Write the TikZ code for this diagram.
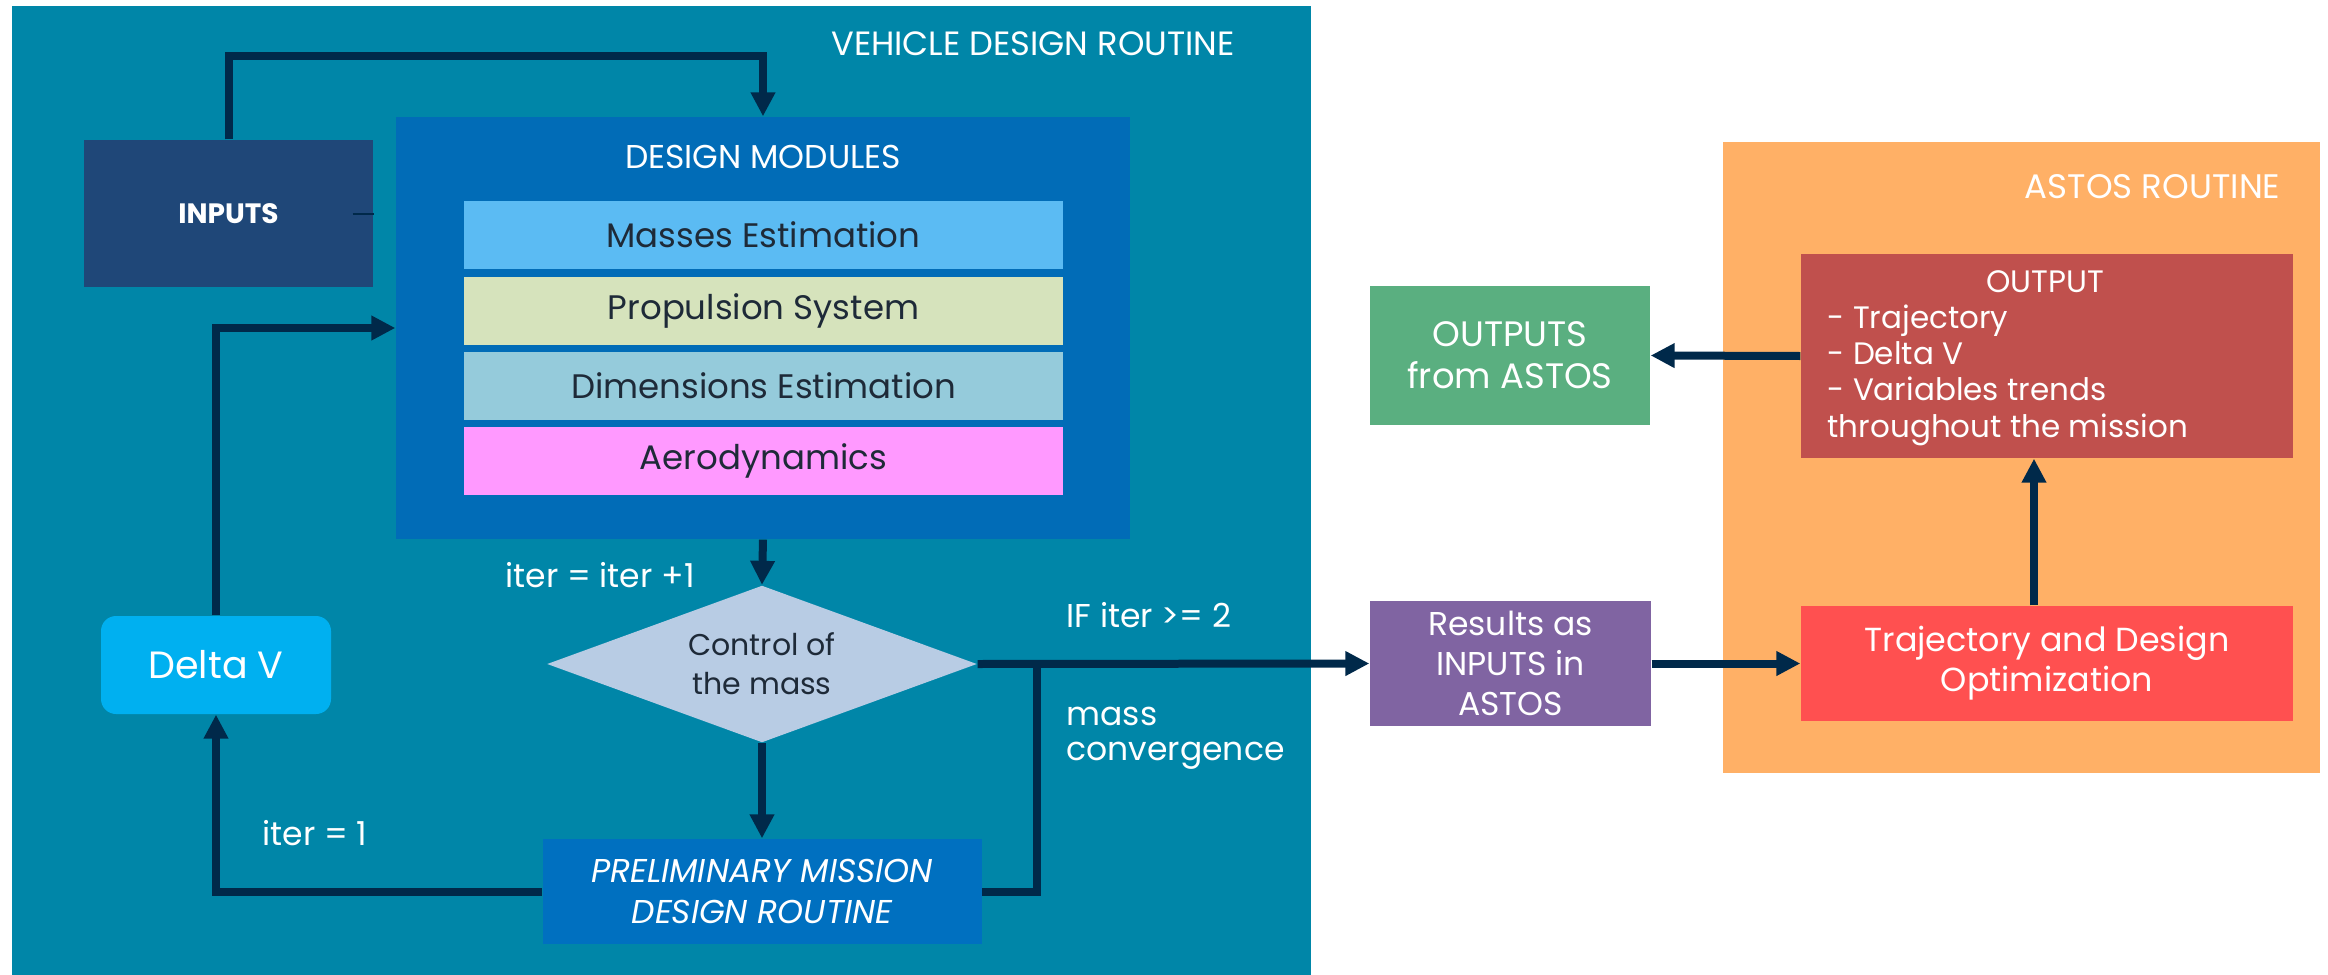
\documentclass[tikz,border=0pt]{standalone}
\usepackage{fontspec}
\setmainfont{Poppins}
\usetikzlibrary{shapes.geometric,arrows.meta,calc}
\definecolor{tealC}{HTML}{0086A8}
\definecolor{inpC}{HTML}{1F4778}
\definecolor{dmC}{HTML}{016CB7}
\definecolor{m1C}{HTML}{5BBBF3}
\definecolor{m2C}{HTML}{D6E3BC}
\definecolor{m3C}{HTML}{95CBDB}
\definecolor{m4C}{HTML}{FF99FF}
\definecolor{dvC}{HTML}{00B0F0}
\definecolor{diaC}{HTML}{B8CCE4}
\definecolor{pmC}{HTML}{0070C0}
\definecolor{lineC}{HTML}{00294A}
\definecolor{txtC}{HTML}{1E2A38}
\definecolor{orC}{HTML}{FFB066}
\definecolor{outC}{HTML}{C0504D}
\definecolor{trC}{HTML}{FF5050}
\definecolor{grC}{HTML}{5AAF80}
\definecolor{puC}{HTML}{8064A2}
\def\pxu{0.3pt}
\newcommand\fsz[2]{\fontsize{#1}{#2}\selectfont}
\begin{document}
\begin{tikzpicture}[x=0.3pt,y=-0.3pt,
  sz/.style 2 args={minimum width=#1*\pxu, minimum height=#2*\pxu, inner sep=0pt},
  blk/.style={rectangle, draw=none},
  link/.style={draw=lineC, line width=2.4pt},
  arr/.style={link, -{Triangle[length=7.2pt,width=7pt]}},
  lbl/.style={text=white, inner sep=0pt},
]
\useasboundingbox[fill=white] (0,0) rectangle (2328,975);

% Vehicle design routine container
\node[blk, fill=tealC, sz={1299}{969}] (vdr) at (661.5,490.5) {};
\node[lbl, font=\fsz{10.1pt}{12pt}] (vdrt) at (1033,44) {VEHICLE DESIGN ROUTINE};

\node[blk, fill=inpC, sz={289}{147}, text=white, font=\bfseries\fsz{8.4pt}{10pt}] (inputs) at (228.5,213.5) {INPUTS};

\node[blk, fill=dmC, sz={734}{422}] (dm) at (763,328) {};
\node[lbl, font=\fsz{9.9pt}{11pt}] (dmt) at (763,157) {DESIGN MODULES};
\node[blk, fill=m1C, sz={599}{68}, text=txtC, font=\fsz{10.2pt}{12pt}] (m1) at (763.5,235) {Masses Estimation};
\node[blk, fill=m2C, sz={599}{68}, text=txtC, font=\fsz{10.2pt}{12pt}] (m2) at (763.5,311) {Propulsion System};
\node[blk, fill=m3C, sz={599}{68}, text=txtC, font=\fsz{10.2pt}{12pt}] (m3) at (763.5,386) {Dimensions Estimation};
\node[blk, fill=m4C, sz={599}{68}, text=txtC, font=\fsz{10.2pt}{12pt}] (m4) at (763.5,461) {Aerodynamics};

\node[blk, fill=dvC, rounded corners=4.5pt, sz={230}{98}, text=white, font=\fsz{11.4pt}{13pt}] (dv) at (216,665) {Delta V};

\node[diamond, fill=diaC, aspect=2.74, sz={430}{157}, text=txtC, align=center, font=\fsz{9pt}{11.7pt}] (ctrl) at (762,664) {Control of\\the mass};

\node[blk, fill=pmC, sz={439}{105}, text=white, align=center, font=\itshape\fsz{9.9pt}{12.3pt}] (pmdr) at (762,891.5) {PRELIMINARY MISSION\\DESIGN ROUTINE};

% ASTOS routine container
\node[blk, fill=orC, sz={597}{631}] (astos) at (2021.5,457.5) {};
\node[lbl, anchor=east, font=\fsz{10.2pt}{12pt}] (astost) at (2281,187) {ASTOS ROUTINE};
\node[blk, fill=outC, sz={492}{204}] (out) at (2047,356) {};
\node[lbl, font=\fsz{9.3pt}{11pt}] (outt) at (2045,282) {OUTPUT};
\node[lbl, anchor=west, align=left, font=\fsz{9.3pt}{10.9pt}] (outl) at (1827,375) {- Trajectory\\- Delta V\\- Variables trends\\throughout the mission};
\node[blk, fill=trC, sz={492}{115}, text=white, align=center, font=\fsz{10pt}{12pt}] (traj) at (2047,663.5) {Trajectory and Design\\Optimization};

\node[blk, fill=grC, sz={280}{139}, text=white, align=center, font=\fsz{10.6pt}{12.6pt}] (oa) at (1510,355.5) {OUTPUTS\\from ASTOS};
\node[blk, fill=puC, sz={281}{125}, text=white, align=center, font=\fsz{9.9pt}{12pt}] (res) at (1510.5,663.5) {Results as\\INPUTS in\\ASTOS};

% labels
\node[lbl, font=\fsz{9.9pt}{12pt}] (l1) at (600,575) {iter = iter +1};
\node[lbl, anchor=west, font=\fsz{9.9pt}{12pt}] (l2) at (1066,615) {IF iter >= 2};
\node[lbl, anchor=west, align=left, font=\fsz{9.9pt}{10.5pt}] (l3) at (1066,738) {mass\\convergence};
\node[lbl, font=\fsz{9.9pt}{12pt}] (l4) at (315,833) {iter = 1};

% connectors
\coordinate (j) at (1037,664);
\draw[arr] (inputs.north) -- ++(0,-83) -| (dm.north);
\draw[arr] (dv.north) |- (dm.west);
\draw[arr] (dm.south) -- (ctrl.north);
\draw[arr] (ctrl.south) -- (pmdr.north);
\draw[arr] (pmdr.west) -| (dv.south);
\draw[arr] (ctrl.east) -- (res.west);
\draw[link] (pmdr.east) -| (j);
\draw[arr] ([xshift=-13*\pxu]traj.north) -- ([xshift=-13*\pxu]out.south);
\draw[arr] (out.west) -- (oa.east);
\draw[arr] (res.east) -- (traj.west);
\draw[draw=lineC, line width=0.6pt] ([xshift=-21*\pxu]inputs.east) -- (inputs.east);
\end{tikzpicture}
\end{document}
